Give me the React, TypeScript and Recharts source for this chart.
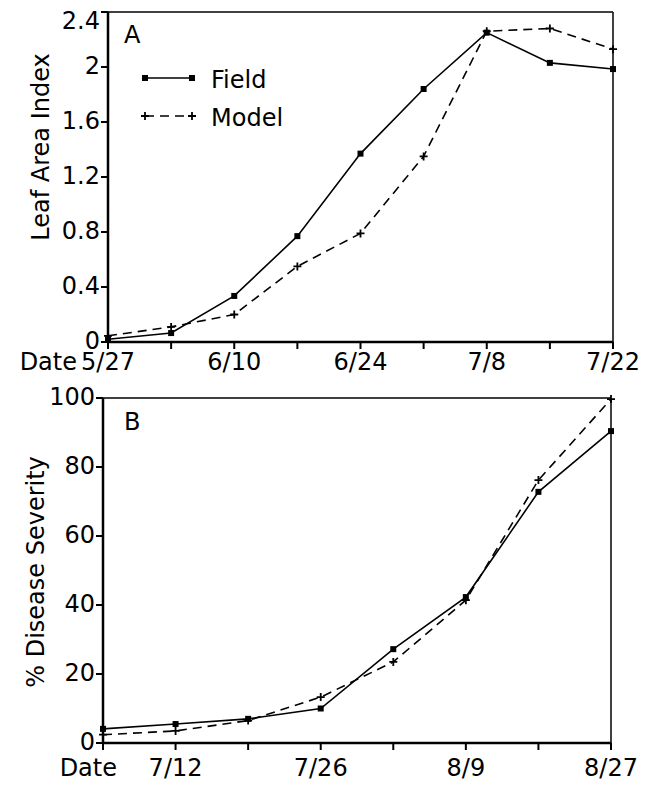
import React from "react";
import { Legend, Line, LineChart, ReferenceLine, XAxis, YAxis } from "recharts";

// panel A: leaf area index
const laiDates = ["5/27", "6/3", "6/10", "6/17", "6/24", "7/1", "7/8", "7/15", "7/22"];
const laiTickLabels = ["5/27", "", "6/10", "", "6/24", "", "7/8", "", "7/22"];
const laiField = [0.02, 0.065, 0.335, 0.77, 1.37, 1.84, 2.25, 2.03, 1.985];
const laiModel = [0.045, 0.11, 0.2, 0.55, 0.79, 1.35, 2.26, 2.28, 2.13];
const laiTicks = [0, 0.4, 0.8, 1.2, 1.6, 2, 2.4];

// panel B: disease severity
const sevTickLabels = ["", "7/12", "", "7/26", "", "8/9", "", "8/27"];
const sevField = [4.1, 5.5, 7, 10, 27.2, 42.3, 72.8, 90.4];
const sevModel = [2.4, 3.5, 6.5, 13.3, 23.5, 41.4, 76.2, 99.7];
const sevTicks = [0, 20, 40, 60, 80, 100];

const FONT = "'DejaVu Sans', sans-serif";

const laiRows = laiDates.map((d, i) => ({ i, date: d, field: laiField[i], model: laiModel[i] }));
const sevRows = sevTickLabels.map((d, i) => ({ i, date: d, field: sevField[i], model: sevModel[i] }));

const FieldDot = (props: any) => {
  const { cx, cy } = props;
  if (cx == null || cy == null) return <g />;
  return <rect x={cx - 3} y={cy - 3} width={6} height={6} fill="#000" />;
};

const ModelDot = (props: any) => {
  const { cx, cy } = props;
  if (cx == null || cy == null) return <g />;
  return (
    <path
      d={`M${cx - 4},${cy}H${cx + 4}M${cx},${cy - 4}V${cy + 4}`}
      stroke="#000"
      strokeWidth={1.8}
    />
  );
};

const makeXTick = (labels: string[], dy: number, dateX: number, anchor: string) => (props: any) => {
  const { x, y, payload } = props;
  const idx = payload.value;
  return (
    <g>
      <text x={x} y={y} dy={dy} textAnchor="middle" fontFamily={FONT} fontSize={24} fill="#000">
        {labels[idx]}
      </text>
      {idx === 0 && (
        <text x={x + dateX} y={y} dy={dy} textAnchor={anchor} fontFamily={FONT} fontSize={24} fill="#000">
          Date
        </text>
      )}
    </g>
  );
};

const makeYTick = (minY: number) => (props: any) => {
  const { x, y, payload } = props;
  return (
    <text
      x={x + 1}
      y={Math.max(y, minY)}
      dy={7}
      textAnchor="end"
      fontFamily={FONT}
      fontSize={24}
      fill="#000"
    >
      {String(payload.value)}
    </text>
  );
};

const YTitle = ({ tx, ty, text }: any) => (
  <text
    x={tx}
    y={ty}
    transform={`rotate(-90 ${tx} ${ty})`}
    textAnchor="middle"
    dominantBaseline="central"
    fontFamily={FONT}
    fontSize={24}
    fill="#000"
  >
    {text}
  </text>
);

const LegendBox = () => (
  <svg width={170} height={72} style={{ display: "block" }}>
    <line x1={5} y1={16} x2={52} y2={16} stroke="#000" strokeWidth={1.6} />
    <rect x={2} y={13} width={6} height={6} fill="#000" />
    <rect x={49} y={13} width={6} height={6} fill="#000" />
    <text x={71} y={26} fontFamily={FONT} fontSize={24} fill="#000">
      Field
    </text>
    <line x1={5} y1={54} x2={52} y2={54} stroke="#000" strokeWidth={1.6} strokeDasharray="9 6" />
    <path d="M1,54H9M5,50V58M48,54H56M52,50V58" stroke="#000" strokeWidth={1.8} />
    <text x={71} y={64} fontFamily={FONT} fontSize={24} fill="#000">
      Model
    </text>
  </svg>
);

const axisLine = { stroke: "#000", strokeWidth: 2.5 };
const tickLine = { stroke: "#000", strokeWidth: 2 };

const PanelLetter = ({ top, text }: { top: number; text: string }) => (
  <div
    style={{
      position: "absolute",
      left: 124,
      top,
      fontFamily: FONT,
      fontSize: 24,
      lineHeight: "24px",
      color: "#000",
    }}
  >
    {text}
  </div>
);

export default function App() {
  return (
    <div
      style={{
        position: "absolute",
        left: 0,
        top: 0,
        width: 654,
        height: 785,
        background: "#fff",
        overflow: "hidden",
      }}
    >
      <div style={{ position: "absolute", left: 0, top: 0 }}>
        <LineChart
          width={654}
          height={380}
          data={laiRows}
          margin={{ top: 12, right: 41, left: 0, bottom: 8 }}
        >
          <XAxis
            dataKey="i"
            type="number"
            domain={[0, laiDates.length - 1]}
            ticks={laiRows.map((r) => r.i)}
            height={30}
            tickSize={7}
            axisLine={axisLine}
            tickLine={tickLine}
            tick={makeXTick(laiTickLabels, 19, -31, "end")}
            interval={0}
          />
          <YAxis
            type="number"
            domain={[0, 2.4]}
            ticks={laiTicks}
            width={108}
            tickSize={7}
            axisLine={axisLine}
            tickLine={tickLine}
            tick={makeYTick(22)}
            interval={0}
            label={<YTitle tx={41} ty={147} text="Leaf Area Index" />}
          />
          <ReferenceLine y={2.4} stroke="#000" strokeWidth={1.5} />
          <ReferenceLine x={laiDates.length - 1} stroke="#000" strokeWidth={1.5} />
          <Legend
            layout="vertical"
            align="center"
            verticalAlign="middle"
            content={() => <LegendBox />}
            wrapperStyle={{ position: "absolute", left: 140, top: 62, width: 170 }}
          />
          <Line
            dataKey="field"
            name="Field"
            stroke="#000"
            strokeWidth={1.6}
            dot={FieldDot}
            activeDot={false}
            isAnimationActive={false}
          />
          <Line
            dataKey="model"
            name="Model"
            stroke="#000"
            strokeWidth={1.6}
            strokeDasharray="9 6"
            dot={ModelDot}
            activeDot={false}
            isAnimationActive={false}
          />
        </LineChart>
        <PanelLetter top={23} text="A" />
      </div>

      <div style={{ position: "absolute", left: 0, top: 380 }}>
        <LineChart
          width={654}
          height={405}
          data={sevRows}
          margin={{ top: 18, right: 43, left: 0, bottom: 12 }}
        >
          <XAxis
            dataKey="i"
            type="number"
            domain={[0, sevTickLabels.length - 1]}
            ticks={sevRows.map((r) => r.i)}
            height={30}
            tickSize={7}
            axisLine={axisLine}
            tickLine={tickLine}
            tick={makeXTick(sevTickLabels, 24, 14, "end")}
            interval={0}
          />
          <YAxis
            type="number"
            domain={[0, 100]}
            ticks={sevTicks}
            width={103}
            tickSize={7}
            axisLine={axisLine}
            tickLine={tickLine}
            tick={makeYTick(0)}
            interval={0}
            label={<YTitle tx={36} ty={192} text="% Disease Severity" />}
          />
          <ReferenceLine y={100} stroke="#000" strokeWidth={1.5} />
          <ReferenceLine x={sevTickLabels.length - 1} stroke="#000" strokeWidth={1.5} />
          <Line
            dataKey="field"
            name="Field"
            stroke="#000"
            strokeWidth={1.6}
            dot={FieldDot}
            activeDot={false}
            isAnimationActive={false}
          />
          <Line
            dataKey="model"
            name="Model"
            stroke="#000"
            strokeWidth={1.6}
            strokeDasharray="9 6"
            dot={ModelDot}
            activeDot={false}
            isAnimationActive={false}
          />
        </LineChart>
        <PanelLetter top={30} text="B" />
      </div>
    </div>
  );
}
